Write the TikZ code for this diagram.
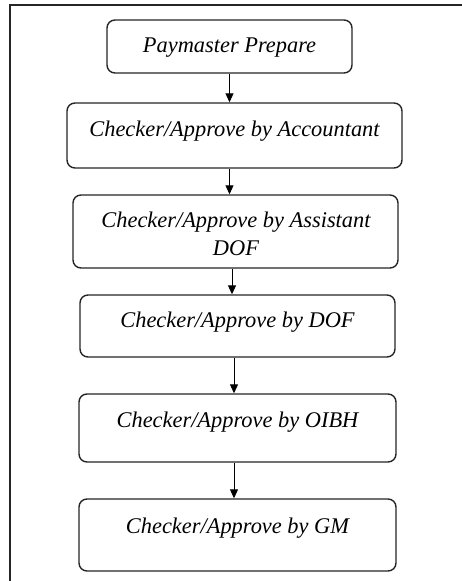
\documentclass[tikz,border=0pt]{standalone}
\usepackage{fontspec}
\setmainfont{Liberation Serif}
\usetikzlibrary{arrows.meta}
\begin{document}
\begin{tikzpicture}[x=1pt,y=-1pt,
  stepbox/.style={draw=black!85, line width=1.4pt, rounded corners=8pt, inner sep=0pt, fill=white},
  lbl/.style={font=\fontsize{22.4}{28}\selectfont\itshape, inner sep=0pt, anchor=base, text=black},
  arr/.style={draw=black, line width=0.9pt, -{Triangle[length=9pt,width=8pt]}},
  frameline/.style={draw=black!85, line width=1.3pt}]
\useasboundingbox[fill=white] (0,0) rectangle (462,581);
\coordinate (fc) at (10,5);
\coordinate (ftr) at (462,5);
\coordinate (fbl) at (10,581);
\draw[frameline] (ftr) -- (fc) -- (fbl);
% boxes
\node[stepbox, minimum width=245pt, minimum height=53pt] (b1) at (229.5,46.5) {};
\node[stepbox, minimum width=335pt, minimum height=65pt] (b2) at (234.5,135.5) {};
\node[stepbox, minimum width=325pt, minimum height=73pt] (b3) at (235.5,231.5) {};
\node[stepbox, minimum width=315pt, minimum height=62pt] (b4) at (237.5,326) {};
\node[stepbox, minimum width=317pt, minimum height=68pt] (b5) at (237.5,428) {};
\node[stepbox, minimum width=317pt, minimum height=72pt] (b6) at (237.5,535) {};
% labels
\node[lbl] (t1) at (229.5,52) {Paymaster Prepare};
\node[lbl] (t2) at (234.5,136) {Checker/Approve by Accountant};
\node[lbl] (t3a) at (236,227) {Checker/Approve by Assistant};
\node[lbl] (t3b) at (236,255) {DOF};
\node[lbl] (t4) at (237.5,327) {Checker/Approve by DOF};
\node[lbl] (t5) at (237.5,427) {Checker/Approve by OIBH};
\node[lbl] (t6) at (237.5,533) {Checker/Approve by GM};
% arrows
\draw[arr] (b1.south) -- (b1.south |- b2.north);
\draw[arr] ([xshift=-5pt]b2.south) -- ([xshift=-5pt]b2.south |- b3.north);
\draw[arr] ([xshift=-3.5pt]b3.south) -- ([xshift=-3.5pt]b3.south |- b4.north);
\draw[arr] ([xshift=-3.5pt]b4.south) -- ([xshift=-3.5pt]b4.south |- b5.north);
\draw[arr] ([xshift=-3.5pt]b5.south) -- ([xshift=-3.5pt]b5.south |- b6.north);
\end{tikzpicture}
\end{document}
